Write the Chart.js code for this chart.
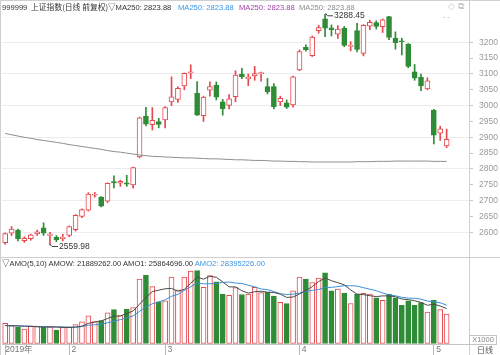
<!DOCTYPE html>
<html><head><meta charset="utf-8">
<script src="https://cdn.jsdelivr.net/npm/chart.js@4.4.1/dist/chart.umd.min.js"></script>
<style>
html,body{margin:0;padding:0;background:#fff;}
#wrap{position:relative;width:500px;height:355px;overflow:hidden;background:#fff;font-family:"Liberation Sans","Noto Sans CJK SC",sans-serif;}
canvas{position:absolute;left:0;}
#c1{top:0;}
#c2{top:257px;}
.t{position:absolute;white-space:nowrap;font-size:7.6px;line-height:10px;color:#333;}
.cjk{font-family:"Noto Sans CJK SC",sans-serif;font-size:7.8px;}
.ln{position:absolute;background:#cfcfcf;}
</style></head><body>
<div id="wrap">
<canvas id="c1" width="500" height="257"></canvas>
<canvas id="c2" width="500" height="98"></canvas>
<div class="ln" style="left:0;top:0;width:500px;height:1px;"></div>
<div class="ln" style="left:0;top:0;width:1px;height:355px;"></div>
<div class="ln" style="left:469px;top:0;width:1px;height:355px;"></div>
<div class="ln" style="left:0;top:257px;width:500px;height:1px;"></div>
<div class="t" style="left:2px;top:3px;">999999</div>
<div class="t cjk" style="left:31px;top:2px;">上证指数(日线 前复权)</div>
<div class="t" style="left:108px;top:3px;">▽MA250: 2823.88</div>
<div class="t" style="left:178px;top:3px;color:#3a95e4">MA250: 2823.88</div>
<div class="t" style="left:239px;top:3px;color:#a23fae">MA250: 2823.88</div>
<div class="t" style="left:299px;top:3px;color:#8c8c8c">MA250: 2823.88</div>
<div class="t" style="left:448px;top:1px;color:#c8c8c8;font-size:9px;font-family:'DejaVu Sans';">◇ ⧉</div>
<div class="t" style="left:443px;top:12px;color:#f08c8c;font-size:7px;">- -</div>
<div class="t" style="left:2px;top:259px;">▽AMO(5,10) AMOW: 21889262.00 AMO1: 25864696.00 <span style="color:#3a95e4">AMO2: 28395226.00</span></div>
<div class="t" style="left:469px;top:335px;width:26px;height:8px;line-height:8px;border:1px solid #c4c4c4;color:#888;font-size:7.5px;text-align:center;">X1000</div>
<div class="t cjk" style="left:477px;top:345px;color:#555;font-size:8px;">日线</div>
</div>
<script>
// ---------- data ----------
const dates = ['2019-01-18','2019-01-21','2019-01-22','2019-01-23','2019-01-24','2019-01-25','2019-01-28','2019-01-29','2019-01-30','2019-01-31',
'2019-02-01','2019-02-11','2019-02-12','2019-02-13','2019-02-14','2019-02-15','2019-02-18','2019-02-19','2019-02-20','2019-02-21','2019-02-22','2019-02-25','2019-02-26','2019-02-27','2019-02-28',
'2019-03-01','2019-03-04','2019-03-05','2019-03-06','2019-03-07','2019-03-08','2019-03-11','2019-03-12','2019-03-13','2019-03-14','2019-03-15','2019-03-18','2019-03-19','2019-03-20','2019-03-21','2019-03-22','2019-03-25','2019-03-26','2019-03-27','2019-03-28','2019-03-29',
'2019-04-01','2019-04-02','2019-04-03','2019-04-04','2019-04-08','2019-04-09','2019-04-10','2019-04-11','2019-04-12','2019-04-15','2019-04-16','2019-04-17','2019-04-18','2019-04-19','2019-04-22','2019-04-23','2019-04-24','2019-04-25','2019-04-26','2019-04-29','2019-04-30',
'2019-05-06','2019-05-07','2019-05-08'];
const opens  = [2567,2597,2607,2574,2580,2595,2614,2590,2584,2580, 2590,2608,2650,2670,2717,2711,2698,2760,2755,2756,2750,2838,2967,2940,2950, 2955,3012,3020,3062,3103,3039,2968,3049,3065,3012,3001,3028,3100,3085,3094,3101,3060,3060,3012,3009,3002, 3113,3184,3158,3237,3274,3246,3226,3244,3187,3237,3165,3251,3262,3249,3281,3213,3205,3194,3107,3089,3053, 2986,2913,2873];
const highs  = [2598,2618,2610,2586,2594,2607,2630,2600,2590,2594, 2620,2656,2674,2725,2726,2713,2756,2778,2765,2780,2806,2964,2995,2994,2960, 2997,3090.8,3059,3103,3129,3076,3030,3075,3075,3020,3035,3110,3118,3100,3124,3106,3086,3070,3030,3018,3093, 3176,3192,3220,3254,3288.45,3255,3253,3250,3202,3260,3256,3270,3268,3274,3282,3233,3213,3196,3130,3100,3088, 2988,2935,2926];
const lows   = [2562,2590,2573,2568,2575,2590,2590,2559.98,2570,2573, 2586,2604,2646,2667,2711,2680,2694,2740,2745,2745,2739,2835,2936,2923,2930, 2930,3000,3010,3050,3085,2969,2950,3030,3018,2970,2990,3012,3085,3063,3080,3077,3037,2990,3000,2991,2995, 3110,3172,3155,3229,3218,3220,3212,3186,3173,3170,3157,3240,3242,3231,3208,3178,3160,3120,3080,3047,3050, 2879,2890,2867];
const closes = [2596.01,2610.51,2579.70,2581.00,2591.69,2601.72,2596.98,2594.25,2575.58,2584.57, 2618.23,2653.90,2671.89,2721.07,2719.70,2682.39,2754.36,2755.65,2761.22,2751.80,2804.23,2961.28,2941.52,2953.82,2940.95, 2994.01,3027.58,3054.25,3102.10,3106.42,2969.86,3026.99,3060.31,3026.95,2990.69,3021.75,3096.42,3090.98,3090.64,3101.46,3104.15,3043.03,2997.10,3022.72,2994.94,3090.76, 3170.36,3176.82,3216.30,3246.57,3244.81,3239.66,3241.93,3189.96,3188.63,3177.79,3253.60,3263.12,3250.20,3270.80,3215.04,3198.59,3201.61,3123.83,3086.40,3062.50,3078.34, 2906.46,2926.39,2893.76];
const ma250  = [2912,2908,2904,2900,2897,2893,2890,2887,2884,2881, 2877,2874,2871,2868,2865,2862,2858,2855,2853,2850,2847,2844,2842,2840,2839, 2838,2837,2836,2835,2835,2834,2833,2832,2832,2831,2830,2829,2829,2828,2827,2827,2826,2825,2825,2824,2824, 2823,2823,2822,2822,2822,2822,2822,2822,2822,2823,2823,2823,2824,2824,2824,2825,2825,2825,2825,2825,2825, 2824,2824,2823.88];
const volumes = [15100,13400,12100,10900,13000,13100,12600,12600,10100,12100, 12600,14100,16100,20500,16300,17100,22800,25000,20800,25500,26500,47300,50000,41800,30700, 31400,48800,39400,48800,53200,53500,41400,49800,45300,36400,35400,41100,36100,36400,41400,37400,37600,34900,30400,29500,38800, 48800,47300,44800,48000,51800,38800,40100,36900,29500,36400,36900,36400,33700,31900,36400,33700,28200,31400,28200,30200,23200, 31900,25000,21889];
const volMA5 = [13400,13300,13200,13000,12900,12500,12340,12440,12280,12100, 12000,12300,13000,15080,15920,16820,18560,20340,20400,22240,24120,29020,34020,38220,39260, 40240,40540,38420,39820,44320,48740,47260,49340,48640,45280,41660,41600,38860,37080,38080,38480,37780,37540,36340,33960,34240, 36480,38960,41840,45540,48140,46140,44700,43120,39420,36340,35960,35220,34580,35060,35060,34420,32780,32320,31580,30340,28240, 28980,27700,25865];
const volMA10 = [13500,13300,13200,13000,12900,12800,12700,12600,12550,12500, 12250,12320,12720,13680,14010,14410,15430,16670,17740,19080,20470,23790,27180,29310,30750, 32180,34780,36220,39020,41790,44490,43900,43880,44230,44800,45200,44430,44100,42860,41680,40070,39690,38200,36710,36020,36360, 37130,38250,39090,39750,41190,41310,41830,42480,42480,42240,41050,39960,38850,37240,35700,35190,34000,33450,33320,32700,31330, 30880,30010,28395];
const priceTickLabels = [2600,2650,2700,2750,2800,2850,2900,2950,3000,3050,3100,3150,3200];
const volTickLabels = [15000,30000,45000];
const monthTickIndex = [0,10,25,46,67];
const monthTickText = ['2019年',' 2',' 3',' 4',' 5'];
const emptySlots = ['','',''];

// ---------- styles ----------
const FONT = '"Liberation Sans","Noto Sans CJK SC",sans-serif';
const RED = '#e6484f', GREEN = '#2e8b36';
Chart.defaults.font.family = FONT;
Chart.defaults.animation = false;
const labels = dates.concat(emptySlots);
const up = dates.map((d,i)=>closes[i] >= opens[i]);
const zeroPad = s => { s.paddingTop = 0; s.paddingBottom = 0; s.paddingLeft = 0; s.paddingRight = 0; };

const marks = {
  id: 'marks',
  afterDatasetsDraw(chart) {
    const ctx = chart.ctx, xs = chart.scales.x, ys = chart.scales.y;
    const hi = Math.max(...highs), hiI = highs.indexOf(hi);
    const lo = Math.min(...lows), loI = lows.indexOf(lo);
    ctx.save();
    ctx.strokeStyle = '#444'; ctx.lineWidth = 1; ctx.fillStyle = '#333';
    ctx.font = '8.5px ' + FONT; ctx.textBaseline = 'middle'; ctx.textAlign = 'left';
    let x = xs.getPixelForValue(hiI), y = ys.getPixelForValue(hi);
    ctx.beginPath(); ctx.moveTo(x+0.5, y-1); ctx.lineTo(x+2.5, y+1.5); ctx.lineTo(x+8, y+1.5); ctx.stroke();
    ctx.fillText(hi.toFixed(2), x+9, y+1.5);
    x = xs.getPixelForValue(loI); y = ys.getPixelForValue(lo);
    ctx.beginPath(); ctx.moveTo(x, y-1); ctx.lineTo(x+2, y+1.5); ctx.lineTo(x+8, y+1.5); ctx.stroke();
    ctx.fillText(lo.toFixed(2), x+9, y+1.5);
    ctx.restore();
  }
};

new Chart(document.getElementById('c1'), {
  type: 'bar',
  data: { labels, datasets: [
    { type:'line', data: ma250, borderColor:'#8e8e8e', borderWidth:1, pointRadius:0, tension:0, order:0 },
    { data: dates.map((d,i)=>[opens[i], closes[i]]), backgroundColor: up.map(u=>u?'#ffffff':GREEN),
      borderColor: up.map(u=>u?RED:GREEN), borderWidth:1, borderSkipped:false, barThickness:5, grouped:false, minBarLength:1, order:1 },
    { data: dates.map((d,i)=>[lows[i], highs[i]]), backgroundColor: up.map(u=>u?RED:GREEN), borderWidth:0, barThickness:1, grouped:false, order:2 }
  ]},
  options: {
    responsive:false, maintainAspectRatio:false,
    layout:{ padding:{ left:2, right:0, top:13, bottom:1 } },
    plugins:{ legend:{display:false}, tooltip:{enabled:false} },
    scales:{
      x:{ type:'category', offset:true, display:false, afterFit: zeroPad },
      y:{ position:'right', min:2525.2, max:3292.5, border:{display:false},
          afterFit: s => { s.width = 31; zeroPad(s); },
          grid:{ color: c => (c.tick && c.tick.value % 100 === 0 && priceTickLabels.includes(c.tick.value)) ? '#ececec' : 'rgba(0,0,0,0)',
                 tickColor: c => (c.tick && priceTickLabels.includes(c.tick.value)) ? '#c8c8c8' : 'rgba(0,0,0,0)',
                 tickLength:4, lineWidth:1 },
          ticks:{ stepSize:50, padding:6, color:'#9a9a9a', font:{size:8.5},
                  callback: v => priceTickLabels.includes(v) ? String(v) : '' } }
    }
  },
  plugins:[marks]
});

new Chart(document.getElementById('c2'), {
  type: 'bar',
  data: { labels, datasets: [
    { type:'line', data: volMA5, borderColor:'#4a4a4a', borderWidth:1, pointRadius:0, tension:0, order:0 },
    { type:'line', data: volMA10, borderColor:'#3a8fd9', borderWidth:1, pointRadius:0, tension:0, order:0 },
    { data: volumes, backgroundColor: up.map(u=>u?'#ffffff':GREEN), borderColor: up.map(u=>u?RED:GREEN),
      borderWidth:1, borderSkipped:false, barThickness:5, grouped:false, order:1 }
  ]},
  options: {
    responsive:false, maintainAspectRatio:false,
    layout:{ padding:{ left:2, right:0, top:11, bottom:0 } },
    plugins:{ legend:{display:false}, tooltip:{enabled:false} },
    scales:{
      x:{ type:'category', offset:true, afterFit: s => { s.height = 11; zeroPad(s); },
          border:{ display:true, color:'#c4c4c4' },
          grid:{ offset:false, drawOnChartArea:false, drawTicks:true, tickLength:11,
                 color: c => monthTickIndex.includes(c.index) ? '#b8b8b8' : 'rgba(0,0,0,0)' },
          ticks:{ autoSkip:false, maxRotation:0, minRotation:0, align:'start', padding:-10, color:'#777', font:{size:8.5},
                  callback: (v,i) => { const k = monthTickIndex.indexOf(i); return k >= 0 ? monthTickText[k] : ''; } } },
      y:{ position:'right', min:0, max:55400, border:{display:false},
          afterFit: s => { s.width = 31; zeroPad(s); },
          grid:{ color: c => (c.tick && volTickLabels.includes(c.tick.value)) ? '#ececec' : 'rgba(0,0,0,0)',
                 tickColor: c => (c.tick && volTickLabels.includes(c.tick.value)) ? '#c8c8c8' : 'rgba(0,0,0,0)',
                 tickLength:4 },
          ticks:{ stepSize:15000, padding:6, color:'#9a9a9a', font:{size:8.5},
                  callback: v => volTickLabels.includes(v) ? String(v) : '' } }
    }
  }
});
</script>
</body></html>
